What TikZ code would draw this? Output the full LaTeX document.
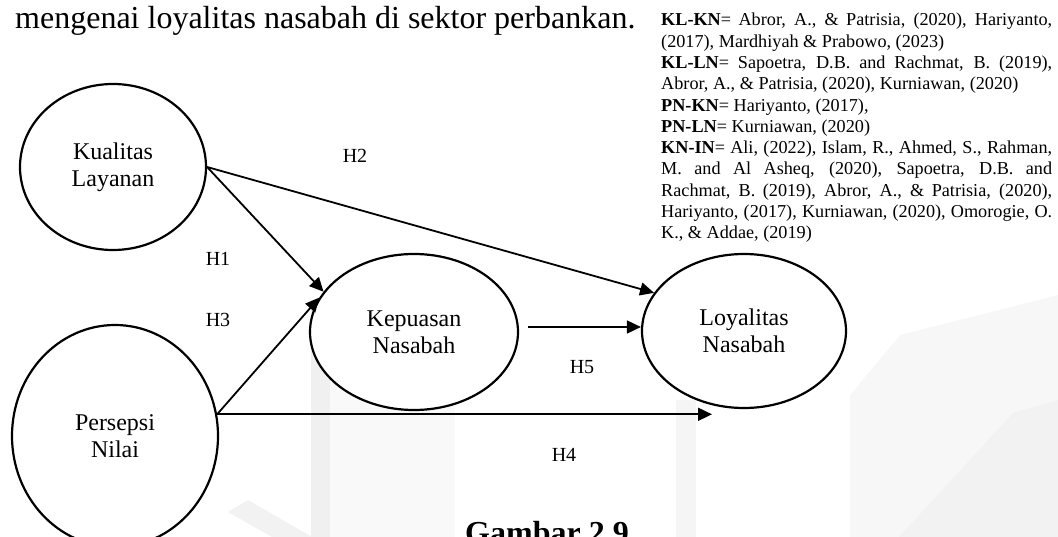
\documentclass[tikz,border=0pt]{standalone}
\usepackage{fontspec}
\setmainfont{Liberation Serif}
\usetikzlibrary{arrows.meta,shapes.geometric}

\tikzset{
  construct/.style={draw, ellipse, line width=2.2pt, inner sep=0pt, align=center,
    font=\fontsize{24}{27}\selectfont},
  link/.style={line width=1.8pt, -{Triangle[length=14pt,width=13pt]}},
  hyp/.style={inner sep=0pt, font=\fontsize{20}{24}\selectfont},
  reflist/.style={inner sep=0pt, align=left, font=\fontsize{18.2}{21.3}\selectfont},
  emblem/.style={draw=none, fill=black!#1},
}
\newcommand{\fullline}[1]{\makebox[391pt][s]{#1}}
\newcommand{\shortline}[1]{\makebox[391pt][l]{#1}}

\begin{document}
\begin{tikzpicture}[x=1pt,y=-1pt]
\useasboundingbox (0,0) rectangle (1058,537);
\clip (0,0) rectangle (1058,537);

% faint emblem in the background
\fill[emblem=2.5] (330,310) rectangle (455,537);
\fill[emblem=6] (311,300) rectangle (330,537);
\fill[emblem=4] (676,400) rectangle (696,537);
\fill[emblem=3] (850,537) -- (850,395) -- (900,335) -- (1058,295) -- (1058,537) -- cycle;
\fill[emblem=5] (899,537) -- (1013,413) -- (1058,400) -- (1058,537) -- cycle;
\fill[emblem=5] (228,512) -- (248,500) -- (312,537) -- (272,537) -- cycle;

% running text above the figure
\node[anchor=base west, inner sep=0pt, font=\fontsize{32}{38}\selectfont] (lead)
  at (15,29) {mengenai loyalitas nasabah di sektor perbankan.};

% references for each hypothesised path
\node[reflist, anchor=north west] (refs) at (661,13) {%
\fullline{\textbf{KL-KN}= Abror, A., \& Patrisia, (2020), Hariyanto,}\\
\shortline{(2017), Mardhiyah \& Prabowo, (2023)}\\
\fullline{\textbf{KL-LN}= Sapoetra, D.B. and Rachmat, B. (2019),}\\
\shortline{Abror, A., \& Patrisia, (2020), Kurniawan, (2020)}\\
\shortline{\textbf{PN-KN}= Hariyanto, (2017),}\\
\shortline{\textbf{PN-LN}= Kurniawan, (2020)}\\
\fullline{\textbf{KN-IN}= Ali, (2022), Islam, R., Ahmed, S., Rahman,}\\
\fullline{M. and Al Asheq, (2020), Sapoetra, D.B. and}\\
\fullline{Rachmat, B. (2019), Abror, A., \& Patrisia, (2020),}\\
\fullline{Hariyanto, (2017), Kurniawan, (2020), Omorogie, O.}\\
\shortline{K., \& Addae, (2019)}};

% constructs
\node[construct, fill=white, minimum width=186pt, minimum height=166pt] (KL) at (113,167) {Kualitas\\Layanan};
\node[construct, fill=white, minimum width=206pt, minimum height=222pt] (PN) at (115,436) {Persepsi\\Nilai};
\node[construct, fill=white, minimum width=208pt, minimum height=156pt] (KN) at (414,332) {Kepuasan\\Nasabah};
\node[construct, fill=white, minimum width=204pt, minimum height=154pt] (LN) at (744,331) {Loyalitas\\Nasabah};

% paths
\coordinate (h4end) at (712,414);
\path ([xshift=9pt,yshift=5pt]KN.east) coordinate (h5start);
\draw[link] (KL.east) -- (KN.156);
\draw[link] (KL.east) -- (LN.157);
\draw[link] (PN.12) -- (KN.160);
\draw[link] (PN.12) -- (PN.12 -| h4end);
\draw[link] (h5start) -- (h5start -| LN.west);

% hypothesis labels
\node[hyp] (H1) at (218,259) {H1};
\node[hyp] (H2) at (355,156) {H2};
\node[hyp] (H3) at (218,320) {H3};
\node[hyp] (H4) at (564,455) {H4};
\node[hyp] (H5) at (582,367) {H5};

% figure caption
\node[anchor=base west, inner sep=0pt, font=\bfseries\fontsize{32}{38}\selectfont] (caption)
  at (465,543) {Gambar 2.9};
\end{tikzpicture}
\end{document}
